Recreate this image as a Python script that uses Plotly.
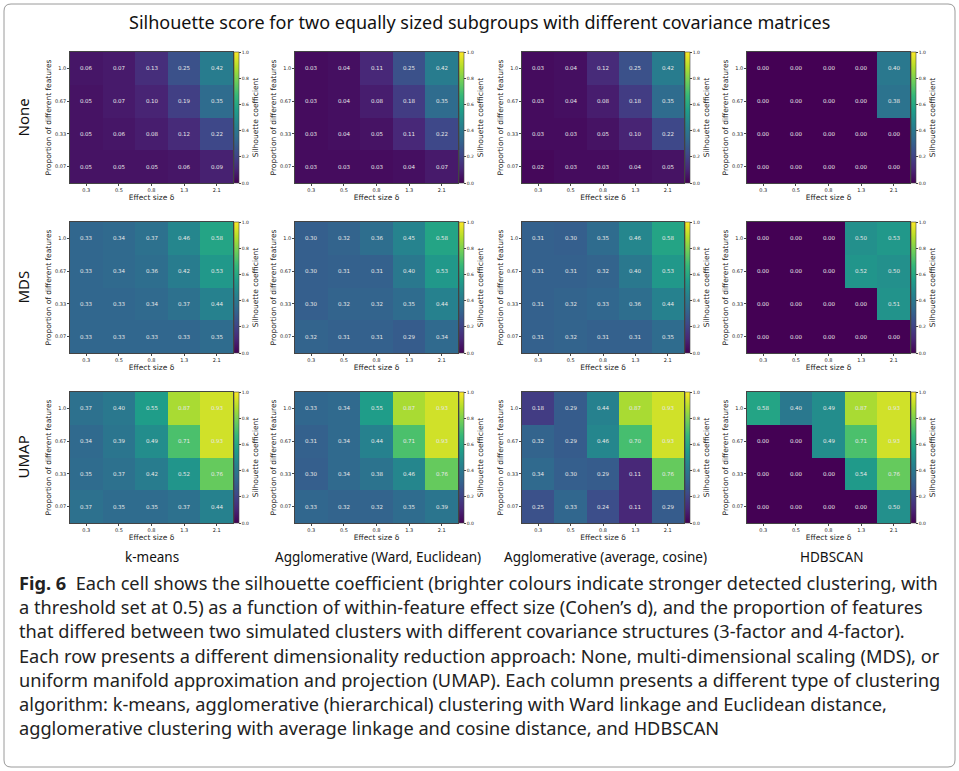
import plotly.graph_objects as go

# ---------------- data ----------------
EFFECT_SIZES = ["0.3", "0.5", "0.8", "1.3", "2.1"]
PROPORTIONS = ["1.0", "0.67", "0.33", "0.07"]  # top to bottom
ROW_LABELS = ["None", "MDS", "UMAP"]
COL_LABELS = ["k-means", "Agglomerative (Ward, Euclidean)",
              "Agglomerative (average, cosine)", "HDBSCAN"]

NONE_KMEANS = [[0.06, 0.07, 0.13, 0.25, 0.42],
               [0.05, 0.07, 0.10, 0.19, 0.35],
               [0.05, 0.06, 0.08, 0.12, 0.22],
               [0.05, 0.05, 0.05, 0.06, 0.09]]
NONE_WARD = [[0.03, 0.04, 0.11, 0.25, 0.42],
             [0.03, 0.04, 0.08, 0.18, 0.35],
             [0.03, 0.04, 0.05, 0.11, 0.22],
             [0.03, 0.03, 0.03, 0.04, 0.07]]
NONE_AVGCOS = [[0.03, 0.04, 0.12, 0.25, 0.42],
               [0.03, 0.04, 0.08, 0.18, 0.35],
               [0.03, 0.03, 0.05, 0.10, 0.22],
               [0.02, 0.03, 0.03, 0.04, 0.05]]
NONE_HDBSCAN = [[0.00, 0.00, 0.00, 0.00, 0.40],
                [0.00, 0.00, 0.00, 0.00, 0.38],
                [0.00, 0.00, 0.00, 0.00, 0.00],
                [0.00, 0.00, 0.00, 0.00, 0.00]]

MDS_KMEANS = [[0.33, 0.34, 0.37, 0.46, 0.58],
              [0.33, 0.34, 0.36, 0.42, 0.53],
              [0.33, 0.33, 0.34, 0.37, 0.44],
              [0.33, 0.33, 0.33, 0.33, 0.35]]
MDS_WARD = [[0.30, 0.32, 0.36, 0.45, 0.58],
            [0.30, 0.31, 0.31, 0.40, 0.53],
            [0.30, 0.32, 0.32, 0.35, 0.44],
            [0.32, 0.31, 0.31, 0.29, 0.34]]
MDS_AVGCOS = [[0.31, 0.30, 0.35, 0.46, 0.58],
              [0.31, 0.31, 0.32, 0.40, 0.53],
              [0.31, 0.32, 0.33, 0.36, 0.44],
              [0.31, 0.32, 0.31, 0.31, 0.35]]
MDS_HDBSCAN = [[0.00, 0.00, 0.00, 0.50, 0.53],
               [0.00, 0.00, 0.00, 0.52, 0.50],
               [0.00, 0.00, 0.00, 0.00, 0.51],
               [0.00, 0.00, 0.00, 0.00, 0.00]]

UMAP_KMEANS = [[0.37, 0.40, 0.55, 0.87, 0.93],
               [0.34, 0.39, 0.49, 0.71, 0.93],
               [0.35, 0.37, 0.42, 0.52, 0.76],
               [0.37, 0.35, 0.35, 0.37, 0.44]]
UMAP_WARD = [[0.33, 0.34, 0.55, 0.87, 0.93],
             [0.31, 0.34, 0.44, 0.71, 0.93],
             [0.30, 0.34, 0.38, 0.46, 0.76],
             [0.33, 0.32, 0.32, 0.35, 0.39]]
UMAP_AVGCOS = [[0.18, 0.29, 0.44, 0.87, 0.93],
               [0.32, 0.29, 0.46, 0.70, 0.93],
               [0.34, 0.30, 0.29, 0.11, 0.76],
               [0.25, 0.33, 0.24, 0.11, 0.29]]
UMAP_HDBSCAN = [[0.58, 0.40, 0.49, 0.87, 0.93],
                [0.00, 0.00, 0.49, 0.71, 0.93],
                [0.00, 0.00, 0.00, 0.54, 0.76],
                [0.00, 0.00, 0.00, 0.00, 0.50]]

PANELS = [[NONE_KMEANS, NONE_WARD, NONE_AVGCOS, NONE_HDBSCAN],
          [MDS_KMEANS, MDS_WARD, MDS_AVGCOS, MDS_HDBSCAN],
          [UMAP_KMEANS, UMAP_WARD, UMAP_AVGCOS, UMAP_HDBSCAN]]

CBAR_TICKS = [0.0, 0.2, 0.4, 0.6, 0.8, 1.0]

TITLE = "Silhouette score for two equally sized subgroups with different covariance matrices"
CAPTION_LINES = [
    "<b>Fig. 6</b>  Each cell shows the silhouette coefficient (brighter colours indicate stronger detected clustering, with",
    "a threshold set at 0.5) as a function of within-feature effect size (Cohen’s d), and the proportion of features",
    "that differed between two simulated clusters with different covariance structures (3-factor and 4-factor).",
    "Each row presents a different dimensionality reduction approach: None, multi-dimensional scaling (MDS), or",
    "uniform manifold approximation and projection (UMAP). Each column presents a different type of clustering",
    "algorithm: k-means, agglomerative (hierarchical) clustering with Ward linkage and Euclidean distance,",
    "agglomerative clustering with average linkage and cosine distance, and HDBSCAN",
]

# ---------------- layout helpers ----------------
W, H = 959, 771


def fx(x):
    return x / W


def fy(y):
    return 1 - y / H


COL_X = [(70, 233), (295, 458), (522, 684), (747, 910)]
ROW_Y = [(52, 183), (222, 353), (392, 523)]

CHART_FONT = "DejaVu Sans"
CAP_FONT = "Noto Sans"

fig = go.Figure()
layout = {}

for r in range(3):
    for c in range(4):
        k = r * 4 + c + 1
        x0, x1 = COL_X[c]
        y0, y1 = ROW_Y[r]
        xa = "x" if k == 1 else f"x{k}"
        ya = "y" if k == 1 else f"y{k}"
        fig.add_trace(go.Heatmap(
            x=EFFECT_SIZES, y=PROPORTIONS, z=PANELS[r][c],
            xaxis=xa, yaxis=ya,
            colorscale="Viridis", zmin=0, zmax=1,
            texttemplate="%{z:.2f}",
            textfont=dict(size=5.5, color="#e8e8e8", family=CHART_FONT),
            hoverinfo="z",
            colorbar=dict(
                x=fx(x1 + 1), xanchor="left", xpad=0,
                y=fy(y1), yanchor="bottom", ypad=0,
                len=(y1 - y0) / H, lenmode="fraction",
                thickness=5, thicknessmode="pixels",
                tickvals=CBAR_TICKS,
                ticktext=[f"{v:.1f}" for v in CBAR_TICKS],
                tickfont=dict(size=4.5, family=CHART_FONT, color="#222"),
                ticks="outside", ticklen=2, tickwidth=0.5,
                outlinewidth=0.6, outlinecolor="#444",
                title=dict(text="Silhouette coefficient", side="right",
                           font=dict(size=7.5, family=CHART_FONT, color="#222")),
            ),
        ))
        xkey = "xaxis" if k == 1 else f"xaxis{k}"
        ykey = "yaxis" if k == 1 else f"yaxis{k}"
        layout[xkey] = dict(
            domain=[fx(x0), fx(x1)], anchor=ya, type="category",
            showline=True, mirror=True, linecolor="#444", linewidth=0.6,
            ticks="outside", ticklen=2, tickwidth=0.5, tickcolor="#444",
            tickfont=dict(size=5, family=CHART_FONT, color="#222"),
            title=dict(text="Effect size δ", standoff=2,
                       font=dict(size=7.5, family=CHART_FONT, color="#222")),
            showgrid=False, zeroline=False,
        )
        layout[ykey] = dict(
            domain=[fy(y1), fy(y0)], anchor=xa, type="category",
            autorange="reversed",
            showline=True, mirror=True, linecolor="#444", linewidth=0.6,
            ticks="outside", ticklen=2, tickwidth=0.5, tickcolor="#444",
            tickfont=dict(size=5, family=CHART_FONT, color="#222"),
            title=dict(text="Proportion of different features", standoff=2,
                       font=dict(size=7.5, family=CHART_FONT, color="#222")),
            showgrid=False, zeroline=False,
        )

annotations = []
# title
annotations.append(dict(
    text=TITLE, x=fx(479), y=fy(22), xref="paper", yref="paper",
    xanchor="center", yanchor="middle", showarrow=False,
    font=dict(size=18, family=CAP_FONT, color="#111")))
# row labels
for r, lab in enumerate(ROW_LABELS):
    yc = (ROW_Y[r][0] + ROW_Y[r][1]) / 2
    annotations.append(dict(
        text=lab, x=fx(22), y=fy(yc), xref="paper", yref="paper",
        xanchor="center", yanchor="middle", showarrow=False, textangle=-90,
        font=dict(size=15, family=CAP_FONT, color="#111")))
# column labels
COL_CENTERS = [152, 378, 605, 831]
for c, lab in enumerate(COL_LABELS):
    annotations.append(dict(
        text=lab, x=fx(COL_CENTERS[c]), y=fy(557), xref="paper", yref="paper",
        xanchor="center", yanchor="middle", showarrow=False,
        font=dict(size=13.5, family=CAP_FONT, color="#111")))
# caption
for i, line in enumerate(CAPTION_LINES):
    annotations.append(dict(
        text=line, x=fx(17), y=fy(583 + i * 24.2), xref="paper", yref="paper",
        xanchor="left", yanchor="middle", showarrow=False, align="left",
        font=dict(size=18.2, family=CAP_FONT, color="#222")))

# rounded frame around the whole figure
bx0, bx1, by0, by1, rad = fx(4), fx(955), fy(767), fy(4), 7
rx, ry = rad / W, rad / H
frame_path = (f"M {bx0 + rx},{by1} L {bx1 - rx},{by1} Q {bx1},{by1} {bx1},{by1 - ry} "
              f"L {bx1},{by0 + ry} Q {bx1},{by0} {bx1 - rx},{by0} "
              f"L {bx0 + rx},{by0} Q {bx0},{by0} {bx0},{by0 + ry} "
              f"L {bx0},{by1 - ry} Q {bx0},{by1} {bx0 + rx},{by1} Z")
shapes = [dict(type="path", xref="paper", yref="paper", path=frame_path,
               line=dict(color="#9a9a9a", width=1), fillcolor="rgba(0,0,0,0)")]

fig.update_layout(
    width=W, height=H, margin=dict(l=0, r=0, t=0, b=0),
    paper_bgcolor="white", plot_bgcolor="white",
    showlegend=False, annotations=annotations, shapes=shapes,
    **layout)

fig.write_html("out.html", config={"displayModeBar": False},
               post_script="document.body.style.margin='0';document.body.style.padding='0';")
